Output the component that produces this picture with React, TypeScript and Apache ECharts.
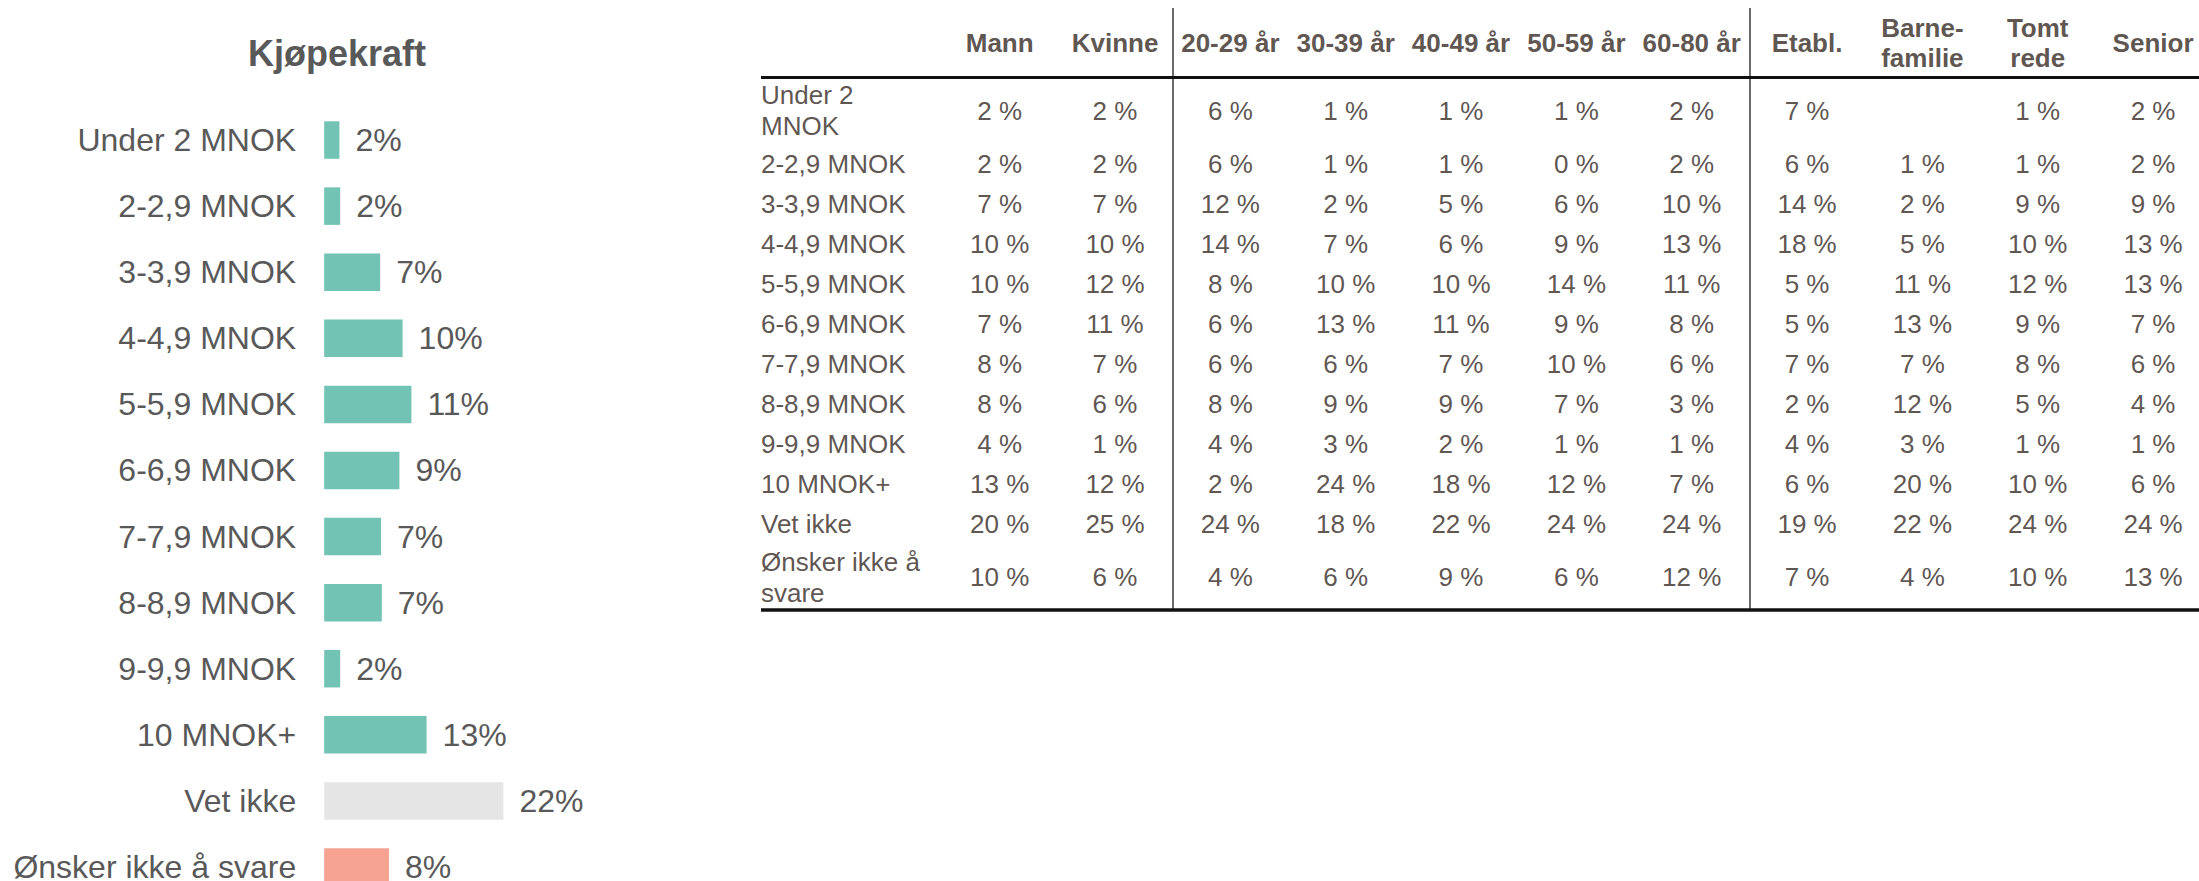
import React, { useEffect, useRef } from "react";
import * as echarts from "echarts";

// ---------- Left chart data ----------
const BAR_CATEGORIES = [
  "Under 2 MNOK",
  "2-2,9 MNOK",
  "3-3,9 MNOK",
  "4-4,9 MNOK",
  "5-5,9 MNOK",
  "6-6,9 MNOK",
  "7-7,9 MNOK",
  "8-8,9 MNOK",
  "9-9,9 MNOK",
  "10 MNOK+",
  "Vet ikke",
  "Ønsker ikke å svare",
];
const BAR_VALUES = [1.9, 2.0, 7.0, 9.8, 10.9, 9.4, 7.1, 7.2, 2.0, 12.8, 22.4, 8.1];

// ---------- Table data ----------
const TABLE_HEADERS = [
  "Mann",
  "Kvinne",
  "20-29 år",
  "30-39 år",
  "40-49 år",
  "50-59 år",
  "60-80 år",
  "Etabl.",
  "Barne-\nfamilie",
  "Tomt\nrede",
  "Senior",
];
const TABLE_ROWS = [
  "Under 2\nMNOK",
  "2-2,9 MNOK",
  "3-3,9 MNOK",
  "4-4,9 MNOK",
  "5-5,9 MNOK",
  "6-6,9 MNOK",
  "7-7,9 MNOK",
  "8-8,9 MNOK",
  "9-9,9 MNOK",
  "10 MNOK+",
  "Vet ikke",
  "Ønsker ikke å\nsvare",
];
const COL_MANN = [2, 2, 7, 10, 10, 7, 8, 8, 4, 13, 20, 10];
const COL_KVINNE = [2, 2, 7, 10, 12, 11, 7, 6, 1, 12, 25, 6];
const COL_20_29 = [6, 6, 12, 14, 8, 6, 6, 8, 4, 2, 24, 4];
const COL_30_39 = [1, 1, 2, 7, 10, 13, 6, 9, 3, 24, 18, 6];
const COL_40_49 = [1, 1, 5, 6, 10, 11, 7, 9, 2, 18, 22, 9];
const COL_50_59 = [1, 0, 6, 9, 14, 9, 10, 7, 1, 12, 24, 6];
const COL_60_80 = [2, 2, 10, 13, 11, 8, 6, 3, 1, 7, 24, 12];
const COL_ETABL = [7, 6, 14, 18, 5, 5, 7, 2, 4, 6, 19, 7];
const COL_BARNE = [null, 1, 2, 5, 11, 13, 7, 12, 3, 20, 22, 4];
const COL_TOMT = [1, 1, 9, 10, 12, 9, 8, 5, 1, 10, 24, 10];
const COL_SENIOR = [2, 2, 9, 13, 13, 7, 6, 4, 1, 6, 24, 13];
const TABLE_COLUMNS = [
  COL_MANN, COL_KVINNE, COL_20_29, COL_30_39, COL_40_49, COL_50_59,
  COL_60_80, COL_ETABL, COL_BARNE, COL_TOMT, COL_SENIOR,
];
// column groups separated by vertical rules (after these column counts)
const GROUP_BREAKS = [2, 7];

// ---------- Styles / layout ----------
const TEAL = "#72C3B3";
const GRAY_BAR = "#E5E5E5";
const SALMON = "#F5A390";
const TEXT_GRAY = "#595959";
const TABLE_TEXT = "#33281F";
const SANS = "'Liberation Sans', Arial, sans-serif";

const LABEL_COL_W = 181;
const COL_W = 115.34;
const HEADER_H = 69.7;
const ROW_PAD = 13.5;
const LINE_H = 26.5;

export default function App() {
  const ref = useRef<HTMLDivElement>(null);

  useEffect(() => {
    if (!ref.current) return;
    const chart = echarts.init(ref.current, undefined, { renderer: "svg" });

    // table layout derived from label line counts
    const rowHeights = TABLE_ROWS.map((r) => ROW_PAD + r.split("\n").length * LINE_H);
    const rowCenters: number[] = [];
    let acc = HEADER_H;
    rowHeights.forEach((h) => {
      rowCenters.push(acc + h / 2);
      acc += h;
    });
    const tableH = acc;
    const tableW = LABEL_COL_W + TABLE_HEADERS.length * COL_W;
    const colX = (c: number) => LABEL_COL_W + (c + 0.5) * COL_W;

    const cellData: any[] = [];
    TABLE_COLUMNS.forEach((col, c) => {
      col.forEach((v, r) => {
        if (v === null || v === undefined) return;
        cellData.push([colX(c), rowCenters[r], `${v} %`]);
      });
    });
    const rowLabelData = TABLE_ROWS.map((t, r) => [0, rowCenters[r], t]);
    const headerData = TABLE_HEADERS.map((t, c) => [colX(c), HEADER_H / 2, t]);

    const vLines = GROUP_BREAKS.map((b) => [
      { coord: [LABEL_COL_W + b * COL_W, 0], lineStyle: { color: "#3a3a3a", width: 1.5, type: "solid" } },
      { coord: [LABEL_COL_W + b * COL_W, tableH] },
    ]);
    const hLines = [
      [
        { coord: [0, HEADER_H], lineStyle: { color: "#111", width: 3, type: "solid" } },
        { coord: [tableW, HEADER_H] },
      ],
      [
        { coord: [0, tableH - 1], lineStyle: { color: "#111", width: 3.5, type: "solid" } },
        { coord: [tableW, tableH - 1] },
      ],
    ];

    const option: any = {
      animation: false,
      backgroundColor: "#ffffff",
      graphic: [
        {
          type: "text",
          x: 337,
          y: 53,
          style: {
            text: "Kjøpekraft",
            fill: TEXT_GRAY,
            font: `bold 36px ${SANS}`,
            textAlign: "center",
            textVerticalAlign: "middle",
          },
        },
      ],
      grid: [
        { left: 324.2, top: 107, width: 200, height: 793, containLabel: false },
        { left: 761, top: 8, width: tableW, height: tableH, containLabel: false },
      ],
      xAxis: [
        { type: "value", gridIndex: 0, min: 0, max: 25, show: false },
        { type: "value", gridIndex: 1, min: 0, max: tableW, show: false },
      ],
      yAxis: [
        {
          type: "category",
          gridIndex: 0,
          data: BAR_CATEGORIES,
          inverse: true,
          axisLine: { show: false },
          axisTick: { show: false },
          splitLine: { show: false },
          axisLabel: {
            interval: 0,
            margin: 28,
            fontSize: 32,
            color: TEXT_GRAY,
            fontFamily: SANS,
          },
        },
        { type: "value", gridIndex: 1, min: 0, max: tableH, inverse: true, show: false },
      ],
      series: [
        {
          type: "bar",
          xAxisIndex: 0,
          yAxisIndex: 0,
          data: BAR_VALUES,
          barWidth: 37.5,
          itemStyle: {
            color: (p: any) =>
              p.dataIndex === BAR_CATEGORIES.length - 2
                ? GRAY_BAR
                : p.dataIndex === BAR_CATEGORIES.length - 1
                ? SALMON
                : TEAL,
          },
          label: {
            show: true,
            position: "right",
            distance: 16,
            fontSize: 32,
            color: TEXT_GRAY,
            fontFamily: SANS,
            formatter: (p: any) => `${Math.round(p.value)}%`,
          },
        },
        {
          type: "scatter",
          name: "cells",
          xAxisIndex: 1,
          yAxisIndex: 1,
          symbolSize: 0,
          clip: false,
          data: cellData,
          label: {
            show: true,
            position: "inside",
            align: "center",
            verticalAlign: "middle",
            fontSize: 26,
            color: TABLE_TEXT,
            fontFamily: SANS,
            formatter: (p: any) => p.value[2],
          },
        },
        {
          type: "scatter",
          name: "rowLabels",
          xAxisIndex: 1,
          yAxisIndex: 1,
          symbolSize: 0,
          clip: false,
          data: rowLabelData,
          label: {
            show: true,
            position: "inside",
            align: "left",
            verticalAlign: "middle",
            fontSize: 26,
            lineHeight: 31,
            color: TABLE_TEXT,
            fontFamily: SANS,
            formatter: (p: any) => p.value[2],
          },
        },
        {
          type: "scatter",
          name: "headers",
          xAxisIndex: 1,
          yAxisIndex: 1,
          symbolSize: 0,
          clip: false,
          data: headerData,
          label: {
            show: true,
            position: "inside",
            align: "center",
            verticalAlign: "middle",
            fontSize: 26,
            fontWeight: "bold",
            lineHeight: 30,
            color: TABLE_TEXT,
            fontFamily: SANS,
            formatter: (p: any) => p.value[2],
          },
        },
        {
          type: "scatter",
          name: "rules",
          xAxisIndex: 1,
          yAxisIndex: 1,
          data: [],
          markLine: {
            silent: true,
            symbol: ["none", "none"],
            label: { show: false },
            data: [...vLines, ...hLines],
          },
        },
      ],
    };

    chart.setOption(option);
    return () => chart.dispose();
  }, []);

  return (
    <div
      style={{
        position: "absolute",
        left: 0,
        top: 0,
        width: 2199,
        height: 881,
        overflow: "hidden",
        background: "#fff",
      }}
    >
      <div ref={ref} style={{ width: 2240, height: 920 }} />
    </div>
  );
}
